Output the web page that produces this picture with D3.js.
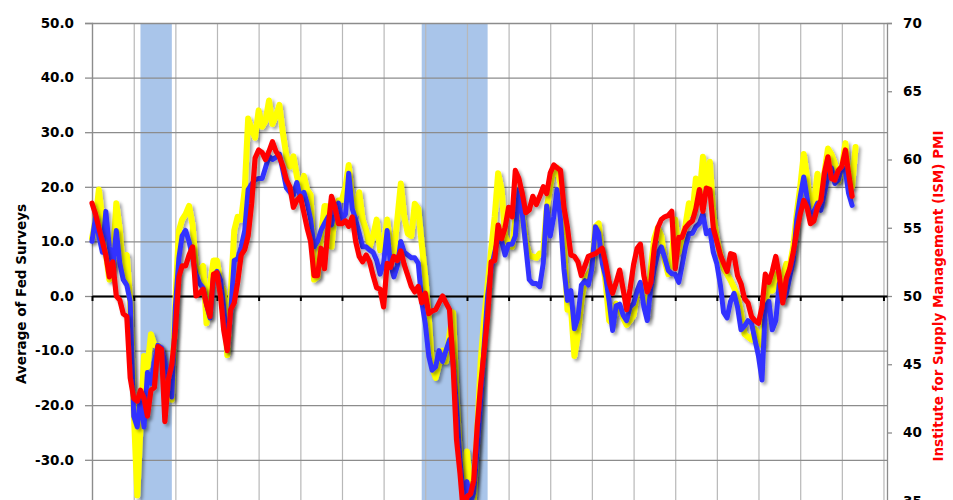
<!DOCTYPE html>
<html>
<head>
<meta charset="utf-8">
<script src="https://cdn.jsdelivr.net/npm/d3@7"></script>
<style>
  html, body { margin: 0; padding: 0; background: #fff; }
  svg { display: block; }
  text { font-family: "DejaVu Sans", sans-serif; font-weight: bold; }
</style>
</head>
<body>
<svg id="chart" width="953" height="500"></svg>
<script>
// ---- data (monthly, starting Jan 2000) ----
const startYear = 2000;

// Average of Fed surveys (yellow, left axis)
const fedSurveysA = [
  10.5, 14, 19.5, 14, 8, 3, 6, 17, 12, 4, 7.5, -1,
  -21, -36.5, -24, -11, -13, -7, -9, -9, -10, -13.6, -15.5, -19,
  -1, 12, 14, 15, 16.5, 13, 5, 4.5, 5.5, -5, 2, 6.5,
  6.5, 2, 1, -10.8, 0, 12, 14.5, 14, 19.5, 32.5, 30.5, 29,
  34, 31, 32, 35.8, 31.5, 33, 35, 29.8, 25.6, 23.7, 25.6, 22,
  19.5, 22, 19.5, 18.5, 3, 3.5, 11, 16.5, 16.4, 9, 15.8, 17.5,
  17.6, 20, 24, 17.5, 15, 19, 14, 12, 9, 11, 14, 8.4,
  9, 14, 9, 8, 14, 20.6, 14.5, 11.4, 11, 16.9, 16, 9.6,
  3.5, -4, -13, -15, -12.5, -10, -12, -7, -3, -18, -30, -35,
  -28.5, -36, -38, -25, -12, -4, 2, 8.4, 14.5, 22.5, 19.5, 11,
  9.5, 9, 14, 19.5, 15, 10, 7.5, 7.2, 7, 7.8, 8, 16,
  20, 23.5, 23.5, 20.6, 10, -2.5, -2, -11, -7, -1, 3, 4,
  5, 12.7, 13.3, 7, 2.5, -4.5, -5, -1.4, -2.5, -4, -5.3, -4.5,
  -3.5, 0.5, 2, -1, -3.5, 5, 10.5, 12.5, 11, 6.5, 4, 7,
  14, 8, 10.5, 13, 17, 15, 21.5, 18, 25.5, 20, 24.6, 15,
  10.5, 7.5, 5, 4, 2.9, 1.5, 0, -3, -7, -7.5, -8, -6,
  -7, -9, -1, 1.7, 1, 4, 1, 3.5, 5.9, 5.5, 9, 15,
  20, 26, 22, 16.5, 17, 22.4, 17, 22.5, 27, 26, 24.3, 21,
  23.5, 28, 22, 20, 27.3
];

// Average of Fed surveys (blue, left axis)
const fedSurveysB = [
  10, 14.5, 11, 8, 15.5, 9, 5, 12, 6, 3, 2, -1,
  -22, -24, -18.5, -24, -14, -16, -12, -9, -9.5, -12, -16, -18.5,
  -2, 7, 11, 12, 10, 7, 4, 2.3, 1.5, -1.5, -4, 3.5,
  4.5, 3, -2, -10, -3, 6.5, 6.8, 9, 12, 19.5, 20.5, 21.3,
  21.5, 21.5, 23.5, 25.6, 25, 25.4, 26, 23, 19.8, 19, 18.5, 20.8,
  18, 19, 17, 14, 9, 10, 12, 13.3, 14.5, 13, 16, 17,
  14, 15, 22.5, 16, 14, 11.5, 9, 9, 8.4, 8, 6.5, 4,
  6, 12, 6, 3.5, 5.5, 10, 8, 7.5, 7, 7, 6, -1,
  -5, -11, -13.6, -13, -10, -12, -10, -8, -12, -20, -30, -37,
  -34, -38, -36, -28, -19, -9, 0, 5, 8, 10.5, 10, 7.5,
  9.5, 9.5, 11, 19.5, 15, 9, 3, 2.3, 2.3, 1.7, 6, 16.5,
  11, 14.5, 19.5, 14, 5, -0.8, 1, -6, -4, 2, 2.8, 2,
  5, 12.7, 11.5, 6, 3.5, -1, -6.3, -1.8, -1.5, -3.5, -4.5, -2,
  -1.4, 1, 2.5, -2, -4.5, 1.5, 5, 7.8, 9, 7, 4.7, 4.1,
  4, 2.5, 5.5, 9, 11.4, 11.5, 12.7, 13.3, 15.1, 11.4, 12, 8,
  5.9, 2, -3, -4, -1, 0.5, -2, -6.2, -5.5, -4.5, -5, -8,
  -11, -15.4, -2, -1, -6.2, -4.5, 2.3, -1, 0.4, 3.5, 6.5, 13.9,
  18.2, 21.8, 18.2, 13.9, 15.5, 17, 15.7, 18.8, 22, 23.5, 20.6, 21.2,
  23.7, 23, 18.8, 16.6
];

// ISM PMI (red, right axis)
const ismPMI = [
  56.8, 56.0, 55.0, 54.0, 53.0, 51.4, 52.5, 50.0, 49.7, 48.7, 48.5, 44,
  42.5, 42.3, 43.1, 42.5, 41.2, 43.1, 43.3, 46.3, 46.1, 40.8, 43.9, 45,
  47.5, 51.4, 52.2, 52.2, 53, 53.6, 50, 50.2, 50.5, 49.4, 48.5, 51.6,
  51.7, 50, 47.5, 46, 49, 49.5, 51, 53, 53.4, 54.4, 56.8, 60.1,
  60.7, 60.5, 60, 60.6, 61.3, 60.6, 60.2, 59.5, 58.5, 58, 56.5, 57,
  57.3, 56.1, 55, 54, 51.5, 51.5, 53.5, 52, 55, 57.3, 56.5, 55.3,
  55.3, 55.5, 55.1, 55.8, 54, 52.9, 52.5, 53, 52.5, 51.5, 50.6, 50.5,
  49.2, 52.4, 52.1, 52.9, 52.6, 53.3, 52.3, 51.5, 50.7, 50.3, 50.7, 49.5,
  50.2, 48.7, 48.9, 49, 49.5, 50, 49.5, 49, 45, 39.5, 37, 34,
  35.3, 35.5, 36.5, 40.5, 43.5, 46, 48.5, 52.5, 52.6, 55.2, 54.2, 55,
  56.5, 55.8, 59.2, 58.6, 57.5, 56.1, 56.3, 57.3, 56.7, 57.3, 58, 57.5,
  59, 59.6, 59.4, 59.2, 56.5, 55, 53, 52.9, 52.5, 51.5, 52.2, 52.9,
  53, 53.1, 53.3, 53.5, 52.4, 51, 50.2, 51, 51.9, 50.5, 49, 50.5,
  52.3, 53.5, 53.8, 51.5, 50.3, 51, 53.5, 55, 55.6, 55.8, 55.9, 56.2,
  52, 54.3, 54.3, 55, 55.3, 55.5, 56.4, 57.8, 56.2, 57.9, 57.8, 55,
  54, 53, 52.4, 51.8, 53.1, 53, 51.5, 50.9, 49.8, 49.5, 48.5, 48.2,
  48, 49.2, 51.6, 51, 51.8, 52.9, 51.5, 49.5, 51.3, 52, 53.2, 54.7,
  56, 57, 56.5, 55.3, 55.5, 56.5, 57, 59, 60.2, 58.6, 58.5, 59.2,
  59.5, 60.7, 59, 57.3
];

// recession periods [start, end)
const recessions = [
  ["2001-03-01", "2001-12-01"],
  ["2007-12-01", "2009-07-01"]
];

const leftGridTicks = [-50, -40, -30, -20, -10, 0, 10, 20, 30, 40, 50];
const leftLabelTicks = [-30, -20, -10, 0, 10, 20, 30, 40, 50];
const rightTicks = [35, 40, 45, 50, 55, 60, 65, 70];
const leftTitle = "Average of Fed Surveys";
const rightTitle = "Institute for Supply Management (ISM) PMI";

// ---- layout ----
const plotLeft = 92, plotRight = 887, plotTop = 23, plotBottom = 569;
const svg = d3.select("#chart");

const monthDate = k => new Date(Date.UTC(startYear, k, 1));

const x = d3.scaleUtc()
  .domain([new Date(Date.UTC(2000, 0, 1)), new Date(Date.UTC(2019, 1, 1))])
  .range([plotLeft, plotRight]);
const yL = d3.scaleLinear().domain([-50, 50]).range([plotBottom, plotTop]);
const yR = d3.scaleLinear().domain([30, 70]).range([plotBottom, plotTop]);

svg.append("rect").attr("width", 953).attr("height", 500).attr("fill", "#fff");

const defs = svg.append("defs");
const f = defs.append("filter").attr("id", "shadow")
  .attr("x", "-5%").attr("y", "-5%").attr("width", "110%").attr("height", "110%");
f.append("feDropShadow").attr("dx", 2.5).attr("dy", 2.5).attr("stdDeviation", 1.6)
  .attr("flood-color", "#000").attr("flood-opacity", 0.35);

// recession bands
svg.append("g").selectAll("rect").data(recessions).join("rect")
  .attr("x", d => x(new Date(d[0] + "T00:00:00Z")))
  .attr("width", d => x(new Date(d[1] + "T00:00:00Z")) - x(new Date(d[0] + "T00:00:00Z")))
  .attr("y", plotTop).attr("height", plotBottom - plotTop)
  .attr("fill", "#a9c5ea");

// vertical gridlines (years)
const vGrid = svg.append("g").attr("transform", `translate(0,${plotTop})`)
  .call(d3.axisBottom(x).ticks(d3.utcYear.every(1)).tickSize(plotBottom - plotTop).tickFormat(""));
vGrid.select(".domain").remove();
vGrid.selectAll("line").attr("stroke", "#b8b8b8").attr("stroke-width", 1.2);

// horizontal gridlines
const hGrid = svg.append("g").attr("transform", `translate(${plotLeft},0)`)
  .call(d3.axisLeft(yL).tickValues(leftGridTicks).tickSize(-(plotRight - plotLeft)).tickFormat(""));
hGrid.select(".domain").remove();
hGrid.selectAll("line").attr("stroke", "#8c8c8c").attr("stroke-width", 1.3);

// left axis (ticks + labels)
const la = svg.append("g").attr("transform", `translate(${plotLeft},0)`)
  .call(d3.axisLeft(yL).tickValues(leftLabelTicks).tickSize(7).tickPadding(11)
    .tickFormat(d => d.toFixed(1)));
la.select(".domain").attr("stroke", "#8c8c8c").attr("stroke-width", 1.3);
la.selectAll("line").attr("stroke", "#8c8c8c").attr("stroke-width", 1.3);
la.selectAll("text").attr("fill", "#000").style("font-size", "13.5px")
  .style("font-family", "'DejaVu Sans', sans-serif").style("font-weight", "bold");

// right axis
const ra = svg.append("g").attr("transform", `translate(${plotRight},0)`)
  .call(d3.axisRight(yR).tickValues(rightTicks).tickSize(5).tickPadding(11)
    .tickFormat(d => String(d)));
ra.select(".domain").attr("stroke", "#8c8c8c").attr("stroke-width", 1.3);
ra.selectAll("line").attr("stroke", "#8c8c8c").attr("stroke-width", 1.3);
ra.selectAll("text").attr("fill", "#000").style("font-size", "13.5px")
  .style("font-family", "'DejaVu Sans', sans-serif").style("font-weight", "bold");

// x axis at zero
const xa = svg.append("g").attr("transform", `translate(0,${yL(0)})`)
  .call(d3.axisBottom(x).ticks(d3.utcYear.every(1)).tickSizeInner(5).tickSizeOuter(0).tickFormat(""));
xa.select(".domain").attr("stroke", "#000").attr("stroke-width", 2.2);
xa.selectAll("line").attr("stroke", "#000").attr("stroke-width", 2);

// lines
const clip = defs.append("clipPath").attr("id", "plotclip");
clip.append("rect").attr("x", plotLeft - 5).attr("y", plotTop - 5)
  .attr("width", plotRight - plotLeft + 10).attr("height", plotBottom - plotTop + 10);

const lineL = d3.line().x((d, i) => x(monthDate(i))).y(d => yL(d));
const lineR = d3.line().x((d, i) => x(monthDate(i))).y(d => yR(d));

const lines = svg.append("g").attr("clip-path", "url(#plotclip)");
const series = [
  { data: fedSurveysA, gen: lineL, color: "#ffff00", w: 6 },
  { data: fedSurveysB, gen: lineL, color: "#3333ff", w: 5 },
  { data: ismPMI, gen: lineR, color: "#ff0000", w: 5.2 }
];
series.forEach(s => {
  lines.append("path").datum(s.data)
    .attr("d", s.gen)
    .attr("fill", "none")
    .attr("stroke", s.color)
    .attr("stroke-width", s.w)
    .attr("stroke-linejoin", "round")
    .attr("stroke-linecap", "round")
    .attr("filter", "url(#shadow)");
});

// axis titles
svg.append("text")
  .attr("transform", `translate(26,294) rotate(-90)`)
  .attr("text-anchor", "middle")
  .style("font-size", "13.5px")
  .attr("fill", "#000")
  .text(leftTitle);

svg.append("text")
  .attr("transform", `translate(943,296) rotate(-90)`)
  .attr("text-anchor", "middle")
  .style("font-size", "13.5px")
  .attr("fill", "#ff0000")
  .text(rightTitle);
</script>
</body>
</html>
